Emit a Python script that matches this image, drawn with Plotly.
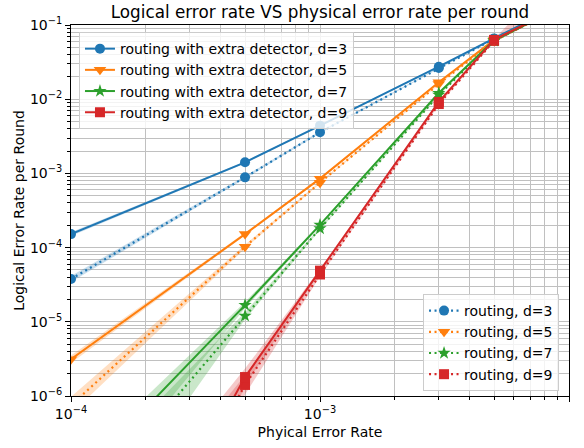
import plotly.graph_objects as go

# ---- data ----
physical_error = [1e-4, 5e-4, 1e-3, 3e-3, 5e-3, 1e-2]
distances = [3, 5, 7, 9]

extra_d3 = [1.52e-4, 1.41e-3, 4.40e-3, 2.74e-2, 6.6e-2, 0.21]
extra_d5 = [3.13e-6, 1.52e-4, 8.5e-4, 1.69e-2, 6.3e-2, 0.20]
extra_d7 = [6.2e-8, 1.68e-5, 2.02e-4, 1.21e-2, 6.2e-2, 0.20]
extra_d9 = [1.0e-10, 1.8e-6, 4.89e-5, 9.2e-3, 6.3e-2, 0.20]

routing_d3 = [3.77e-5, 8.85e-4, 3.58e-3, 2.63e-2, 6.5e-2, 0.21]
routing_d5 = [7.5e-7, 1.03e-4, 7.5e-4, 1.6e-2, 6.1e-2, 0.20]
routing_d7 = [2.1e-8, 1.20e-5, 1.81e-4, 1.14e-2, 6.1e-2, 0.20]
routing_d9 = [8e-11, 1.41e-6, 4.34e-5, 8.6e-3, 6.1e-2, 0.20]

# multiplicative confidence-interval factors: upper = v*up, lower = v/down
extra_d3_up = [1.06, 1.03, 1.03, 1.02, 1.02, 1.05]
extra_d3_down = [1.06, 1.03, 1.03, 1.02, 1.02, 1.05]
extra_d5_up = [1.12, 1.04, 1.03, 1.02, 1.02, 1.05]
extra_d5_down = [1.12, 1.04, 1.03, 1.02, 1.02, 1.05]
extra_d7_up = [1.7, 1.1, 1.04, 1.02, 1.02, 1.05]
extra_d7_down = [2.8, 1.1, 1.04, 1.02, 1.02, 1.05]
extra_d9_up = [30.0, 1.3, 1.05, 1.03, 1.03, 3.5]
extra_d9_down = [30.0, 1.3, 1.05, 1.03, 1.02, 1.05]
routing_d3_up = [1.1, 1.04, 1.03, 1.02, 1.02, 1.05]
routing_d3_down = [1.1, 1.04, 1.03, 1.02, 1.02, 1.05]
routing_d5_up = [1.3, 1.06, 1.03, 1.02, 1.02, 1.05]
routing_d5_down = [1.3, 1.06, 1.03, 1.02, 1.02, 1.05]
routing_d7_up = [2.5, 1.12, 1.04, 1.02, 1.02, 1.05]
routing_d7_down = [4.0, 1.12, 1.04, 1.02, 1.02, 1.05]
routing_d9_up = [30.0, 1.35, 1.06, 1.03, 1.02, 1.1]
routing_d9_down = [30.0, 1.35, 1.06, 1.03, 1.02, 1.05]

x_tick_vals = [1e-4, 1e-3, 1e-2]
x_tick_text = ["10<sup>−4</sup>", "10<sup>−3</sup>", "10<sup>−2</sup>"]
y_tick_vals = [1e-6, 1e-5, 1e-4, 1e-3, 1e-2, 1e-1]
y_tick_text = ["10<sup>−6</sup>", "10<sup>−5</sup>", "10<sup>−4</sup>",
               "10<sup>−3</sup>", "10<sup>−2</sup>", "10<sup>−1</sup>"]

colors = ["#1f77b4", "#ff7f0e", "#2ca02c", "#d62728"]
fills = ["rgba(31,119,180,0.25)", "rgba(255,127,14,0.25)",
         "rgba(44,160,44,0.25)", "rgba(214,39,40,0.25)"]
symbols = ["circle", "triangle-down", "star", "square"]
msizes = [10, 11, 10, 10]

extra = [extra_d3, extra_d5, extra_d7, extra_d9]
extra_up = [extra_d3_up, extra_d5_up, extra_d7_up, extra_d9_up]
extra_down = [extra_d3_down, extra_d5_down, extra_d7_down, extra_d9_down]
routing = [routing_d3, routing_d5, routing_d7, routing_d9]
routing_up = [routing_d3_up, routing_d5_up, routing_d7_up, routing_d9_up]
routing_down = [routing_d3_down, routing_d5_down, routing_d7_down, routing_d9_down]

fig = go.Figure()


def add_band(vals, up, down, fill):
    hi = [v * f for v, f in zip(vals, up)]
    lo = [v / f for v, f in zip(vals, down)]
    fig.add_trace(go.Scatter(
        x=physical_error + physical_error[::-1],
        y=hi + lo[::-1],
        fill="toself", fillcolor=fill, mode="lines",
        line=dict(width=0), showlegend=False, hoverinfo="skip"))


for i in range(4):
    add_band(extra[i], extra_up[i], extra_down[i], fills[i])
    add_band(routing[i], routing_up[i], routing_down[i], fills[i])

for i, d in enumerate(distances):
    fig.add_trace(go.Scatter(
        x=physical_error, y=routing[i], mode="lines+markers",
        name=f"routing, d={d}", legend="legend2",
        line=dict(color=colors[i], width=2.2, dash="2px,3.5px"),
        marker=dict(symbol=symbols[i], size=msizes[i], color=colors[i],
                    line=dict(width=0))))

for i, d in enumerate(distances):
    fig.add_trace(go.Scatter(
        x=physical_error, y=extra[i], mode="lines+markers",
        name=f"routing with extra detector, d={d}", legend="legend",
        line=dict(color=colors[i], width=2),
        marker=dict(symbol=symbols[i], size=msizes[i], color=colors[i],
                    line=dict(width=0))))

minor_x = [m * 10.0 ** e for e in (-4, -3) for m in range(2, 10)]
minor_y = [m * 10.0 ** e for e in (-6, -5, -4, -3, -2) for m in range(2, 10)]

axis_common = dict(
    type="log", showline=True, linecolor="black", linewidth=1, mirror=True,
    ticks="outside", ticklen=5, tickwidth=1, tickcolor="black",
    showgrid=True, gridcolor="#c0c0c0", gridwidth=1, zeroline=False,
    tickfont=dict(size=14, color="black"),
)

fig.update_layout(
    width=584, height=448,
    margin=dict(l=71, r=15, t=25, b=52, autoexpand=False),
    paper_bgcolor="white", plot_bgcolor="white",
    hovermode=False,
    font=dict(family="DejaVu Sans", color="black"),
    title=dict(text="Logical error rate VS physical error rate per round",
               x=0.5, xanchor="center", xref="paper", y=0.973, yanchor="middle",
               font=dict(size=16.8, color="black")),
    xaxis=dict(**axis_common, range=[-4, -2],
               tickmode="array", tickvals=x_tick_vals, ticktext=x_tick_text,
               minor=dict(tickmode="array", tickvals=minor_x, ticks="outside",
                          ticklen=3, tickcolor="black", showgrid=True,
                          gridcolor="#c0c0c0", gridwidth=1),
               title=dict(text="Phyical Error Rate", font=dict(size=14), standoff=6)),
    yaxis=dict(**axis_common, range=[-6, -1],
               tickmode="array", tickvals=y_tick_vals, ticktext=y_tick_text,
               minor=dict(tickmode="array", tickvals=minor_y, ticks="outside",
                          ticklen=3, tickcolor="black", showgrid=True,
                          gridcolor="#c0c0c0", gridwidth=1),
               title=dict(text="Logical Error Rate per Round", font=dict(size=14), standoff=2)),
    legend=dict(x=0.016, y=0.981, xanchor="left", yanchor="top",
                bgcolor="rgba(255,255,255,0.8)", bordercolor="#cccccc", borderwidth=1,
                font=dict(size=14), tracegroupgap=0, itemwidth=30),
    legend2=dict(x=0.98, y=0.0135, xanchor="right", yanchor="bottom",
                 bgcolor="rgba(255,255,255,0.8)", bordercolor="#cccccc", borderwidth=1,
                 font=dict(size=14), tracegroupgap=0, itemwidth=30),
)

fig.write_html("out.html",
               config={"displayModeBar": False},
               post_script="document.body.style.margin='0px';document.body.style.padding='0px';")
